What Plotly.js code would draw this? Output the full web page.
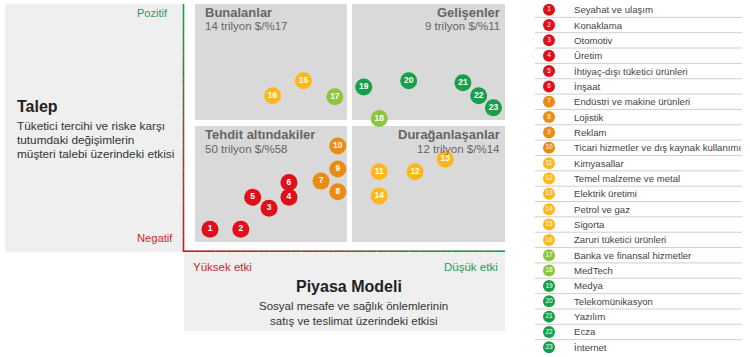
<!DOCTYPE html>
<html><head><meta charset="utf-8">
<script src="https://cdn.plot.ly/plotly-3.0.1.min.js"></script>
<style>html,body{margin:0;padding:0;background:#fff}#chart{width:750px;height:357px}</style>
</head><body><div id="chart"></div>
<script>
// ---- data ----
const sectors = ["Seyahat ve ulaşım","Konaklama","Otomotiv","Üretim","İhtiyaç-dışı tüketici ürünleri","İnşaat",
  "Endüstri ve makine ürünleri","Lojistik","Reklam","Ticari hizmetler ve dış kaynak kullanımı",
  "Kimyasallar","Temel malzeme ve metal","Elektrik üretimi","Petrol ve gaz","Sigorta","Zaruri tüketici ürünleri",
  "Banka ve finansal hizmetler","MedTech","Medya","Telekomünikasyon","Yazılım","Ecza","İnternet"];
const sectorIds = sectors.map((s,i)=>i+1);
// x: market-model impact (0 = high impact, 10 = low impact); y: demand (0 = negative, 10 = positive)
const marketImpact = [0.81,1.77,2.65,3.27,2.14,3.27,4.27,4.79,4.79,4.79,6.08,7.20,8.14,6.08,3.72,2.76,4.70,6.08,5.60,7.00,8.69,9.18,9.64];
const demandImpact = [0.84,0.84,1.70,2.14,2.14,2.74,2.80,2.37,3.29,4.23,3.18,3.18,3.69,2.20,6.88,6.27,6.23,5.35,6.63,6.88,6.80,6.27,5.78];
const riskGroup = [1,1,1,1,1,1,2,2,2,2,3,3,3,3,3,3,4,4,5,5,5,5,5];
const quadrantNames = ["Bunalanlar","Gelişenler","Tehdit altındakiler","Durağanlaşanlar"];
const quadrantValues = ["14 trilyon $/%17","9 trilyon $/%11","50 trilyon $/%58","12 trilyon $/%14"];

// ---- styles ----
const groupColors = {1:"#e0101b",2:"#ec8b12",3:"#ffb71c",4:"#8cc540",5:"#16a04a"};
const colors = riskGroup.map(g=>groupColors[g]);
const W=750,H=357;
const px = x=>x/W, py = y=>1-y/H;
const FONT = "Liberation Sans, Arial, sans-serif";

const shapes = [];
const annotations = [];
// left and bottom light panels
shapes.push({type:"rect",xref:"paper",yref:"paper",x0:px(5),x1:px(184),y0:py(252),y1:py(4),fillcolor:"#efefef",line:{width:0},layer:"below"});
shapes.push({type:"rect",xref:"paper",yref:"paper",x0:px(184),x1:px(505),y0:py(331),y1:py(251),fillcolor:"#efefef",line:{width:0},layer:"below"});
// quadrants
const qx=[[195,347],[352,505],[195,347],[352,505]], qy=[[4,120],[4,120],[126,242],[126,242]];
for(let i=0;i<4;i++){
  shapes.push({type:"rect",xref:"paper",yref:"paper",x0:px(qx[i][0]),x1:px(qx[i][1]),y0:py(qy[i][1]),y1:py(qy[i][0]),fillcolor:"#d9d9d9",line:{width:0},layer:"below"});
  const right = (i%2===1);
  const tx = right? qx[i][1]-3.5 : qx[i][0]+7.5;
  annotations.push({xref:"paper",yref:"paper",x:px(tx),y:py(qy[i][0]+8.5),text:"<b>"+quadrantNames[i]+"</b>",showarrow:false,xanchor:right?"right":"left",yanchor:"middle",font:{family:FONT,size:13,color:"#666"}});
  annotations.push({xref:"paper",yref:"paper",x:px(tx),y:py(qy[i][0]+22.5),text:quadrantValues[i],showarrow:false,xanchor:right?"right":"left",yanchor:"middle",font:{family:FONT,size:11.5,color:"#666"}});
}
// gradient axis lines
function mix(a,b,t){const pa=[1,3,5].map(k=>parseInt(a.substr(k,2),16)),pb=[1,3,5].map(k=>parseInt(b.substr(k,2),16));
  return "rgb("+pa.map((v,i)=>Math.round(v+(pb[i]-v)*t)).join(",")+")";}
const GREEN="#1d9a4c", RED="#c8161e";
const N=30;
for(let k=0;k<N;k++){
  const y0=4+(252-4)*k/N, y1=4+(252-4)*(k+1)/N;
  shapes.push({type:"line",xref:"paper",yref:"paper",x0:px(183.5),x1:px(183.5),y0:py(y0),y1:py(y1),line:{color:mix(GREEN,RED,(k+0.5)/N),width:1.6}});
  const x0=183.5+(505-183.5)*k/N, x1=183.5+(505-183.5)*(k+1)/N;
  shapes.push({type:"line",xref:"paper",yref:"paper",x0:px(x0),x1:px(x1),y0:py(251.2),y1:py(251.2),line:{color:mix(RED,GREEN,(k+0.5)/N),width:1.6}});
}
// side texts
annotations.push({xref:"paper",yref:"paper",x:px(170),y:py(13.5),text:"Pozitif",showarrow:false,xanchor:"right",yanchor:"middle",font:{family:FONT,size:11,color:"#2a9a55"}});
annotations.push({xref:"paper",yref:"paper",x:px(175),y:py(238.5),text:"Negatif",showarrow:false,xanchor:"right",yanchor:"middle",font:{family:FONT,size:11.2,color:"#c42a2e"}});
annotations.push({xref:"paper",yref:"paper",x:px(15),y:py(106),text:"<b>Talep</b>",showarrow:false,xanchor:"left",yanchor:"middle",font:{family:FONT,size:16,color:"#222"}});
["Tüketici tercihi ve riske karşı","tutumdaki değişimlerin","müşteri talebi üzerindeki etkisi"].forEach((t,i)=>{
  annotations.push({xref:"paper",yref:"paper",x:px(15),y:py(126+14*i),text:t,showarrow:false,xanchor:"left",yanchor:"middle",font:{family:FONT,size:11.8,color:"#333"}});
});
annotations.push({xref:"paper",yref:"paper",x:px(191),y:py(266.5),text:"Yüksek etki",showarrow:false,xanchor:"left",yanchor:"middle",font:{family:FONT,size:11.5,color:"#c42a2e"}});
annotations.push({xref:"paper",yref:"paper",x:px(500),y:py(266.5),text:"Düşük etki",showarrow:false,xanchor:"right",yanchor:"middle",font:{family:FONT,size:11.5,color:"#2a9a55"}});
annotations.push({xref:"paper",yref:"paper",x:px(349),y:py(286.5),text:"<b>Piyasa Modeli</b>",showarrow:false,xanchor:"center",yanchor:"middle",font:{family:FONT,size:16,color:"#222"}});
["Sosyal mesafe ve sağlık önlemlerinin","satış ve teslimat üzerindeki etkisi"].forEach((t,i)=>{
  annotations.push({xref:"paper",yref:"paper",x:px(353),y:py(306+14.5*i),text:t,showarrow:false,xanchor:"center",yanchor:"middle",font:{family:FONT,size:11.5,color:"#333"}});
});
// legend rows
for(let k=1;k<sectors.length;k++){
  shapes.push({type:"line",xref:"x2",yref:"y2",x0:5,x1:212,y0:k+0.5,y1:k+0.5,line:{color:"#cfcfcf",width:1}});
}
sectors.forEach((s,i)=>{
  annotations.push({xref:"x2",yref:"y2",x:41.5,y:i+1,text:s,showarrow:false,xanchor:"left",yanchor:"middle",font:{family:FONT,size:9.6,color:"#444"}});
});

const traces = [
  {type:"scatter",mode:"markers+text",x:marketImpact,y:demandImpact,text:sectorIds.map(String),
   marker:{size:17,color:colors,line:{width:0}},textposition:"middle center",
   textfont:{family:FONT,size:8.5,color:"#fff",weight:"bold"},hoverinfo:"text",hovertext:sectors,xaxis:"x",yaxis:"y",cliponaxis:false},
  {type:"scatter",mode:"markers+text",x:sectorIds.map(()=>19),y:sectorIds,text:sectorIds.map(String),
   marker:{size:12,color:colors,line:{width:0}},textposition:"middle center",
   textfont:{family:FONT,size:6.5,color:"#fff"},hoverinfo:"skip",xaxis:"x2",yaxis:"y2",cliponaxis:false}
];
const layout = {
  width:W,height:H,margin:{l:0,r:0,t:0,b:0},paper_bgcolor:"#fff",plot_bgcolor:"rgba(0,0,0,0)",showlegend:false,
  xaxis:{domain:[px(184),px(505)],range:[0,10],visible:false,fixedrange:true},
  yaxis:{domain:[py(250),py(4)],range:[0,10],visible:false,fixedrange:true},
  xaxis2:{domain:[px(530),1],range:[0,220],visible:false,anchor:"y2",fixedrange:true},
  yaxis2:{domain:[py(355),py(2)],range:[23.5,0.5],visible:false,anchor:"x2",fixedrange:true},
  shapes:shapes,annotations:annotations
};
Plotly.newPlot("chart",traces,layout,{displayModeBar:false,staticPlot:true});
</script></body></html>
